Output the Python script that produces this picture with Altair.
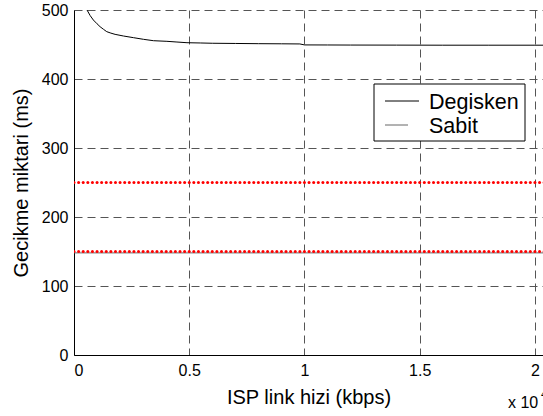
import altair as alt
import pandas as pd

FONT = "Liberation Sans"

# Degisken: delay (ms) against ISP link speed (kbps)
degisken_x = [565, 700, 840, 1000, 1131, 1280, 1421, 1600, 1783, 2146, 2580,
              3016, 3451, 4031, 4467, 4902, 5481, 6000, 7000, 8000, 9000,
              9800, 10000, 11000, 12000, 14000, 16000, 18000, 20000, 20400]
degisken_y = [500, 492, 485.5, 480, 475.8, 472, 468.6, 466.5, 464.7, 462.3,
              459.9, 457.5, 455.5, 454.6, 453.6, 452.6, 452.2, 451.8, 451.5,
              451.2, 451.0, 450.8, 449.4, 449.3, 449.2, 449.1, 449.0, 449.0,
              449.0, 449.0]

# Sabit: constant delay
sabit_x = [0, 20400]
sabit_y = [148, 148]

# Sampled reference levels drawn as red dots
dot_x = list(range(0, 20401, 200))
dot_levels = [250, 150]

x_ticks = [0, 5000, 10000, 15000, 20000]
y_ticks = [0, 100, 200, 300, 400, 500]

series_names = ["Degisken", "Sabit"]
series_colors = ["#000000", "#666666"]

lines = pd.DataFrame(
    {"x": degisken_x + sabit_x,
     "y": degisken_y + sabit_y,
     "series": ["Degisken"] * len(degisken_x) + ["Sabit"] * len(sabit_x)}
)
dots = pd.DataFrame(
    [{"x": xv, "y": lv} for lv in dot_levels for xv in dot_x]
)

x_scale = alt.Scale(domain=[0, 20350], nice=False, zero=False)
y_scale = alt.Scale(domain=[0, 500], nice=False)

x_enc = alt.X(
    "x:Q", scale=x_scale,
    axis=alt.Axis(title="ISP link hizi (kbps)", values=x_ticks,
                  labelExpr="datum.value / 10000", labelPadding=7,
                  titlePadding=9),
)
y_enc = alt.Y(
    "y:Q", scale=y_scale,
    axis=alt.Axis(title="Gecikme miktari (ms)", values=y_ticks,
                  labelPadding=6, titlePadding=10),
)

line_layer = alt.Chart(lines).mark_line(strokeWidth=1, clip=True).encode(
    x=x_enc, y=y_enc,
    color=alt.Color("series:N",
                    scale=alt.Scale(domain=series_names, range=series_colors),
                    legend=None),
    order=alt.Order("x:Q"),
)

dot_layer = alt.Chart(dots).mark_circle(
    color="#ff0000", size=9, opacity=1, clip=True
).encode(x="x:Q", y="y:Q")

# Legend box drawn in the upper right of the plot area
one = pd.DataFrame({"k": [0]})
legend_box = alt.Chart(one).mark_rect(
    fill="white", stroke="black", strokeWidth=1
).encode(x=alt.value(300), x2=alt.value(451), y=alt.value(74), y2=alt.value(131))

legend_layers = [legend_box]
legend_rows = [(series_names[0], series_colors[0], 91, 34, 99),
               (series_names[1], series_colors[1], 115, 23, 123)]
for name, col, ly, llen, ty in legend_rows:
    legend_layers.append(
        alt.Chart(one).mark_rule(color=col, strokeWidth=1).encode(
            x=alt.value(311), x2=alt.value(311 + llen), y=alt.value(ly))
    )
    legend_layers.append(
        alt.Chart(pd.DataFrame({"t": [name]})).mark_text(
            align="left", baseline="alphabetic", font=FONT, fontSize=21.5,
            color="black"
        ).encode(x=alt.value(355), y=alt.value(ty), text="t:N")
    )

exp_text = alt.Chart(pd.DataFrame({"t": ["x 10"]})).mark_text(
    align="left", baseline="middle", font=FONT, fontSize=16, color="black"
).encode(x=alt.value(434), y=alt.value(393), text="t:N")
exp_power = alt.Chart(pd.DataFrame({"t": ["4"]})).mark_text(
    align="left", baseline="middle", font=FONT, fontSize=11, color="black"
).encode(x=alt.value(467), y=alt.value(385), text="t:N")

chart = alt.layer(line_layer, dot_layer, *legend_layers, exp_text, exp_power).properties(
    width=469, height=345,
    autosize=alt.AutoSizeParams(type="none"),
    padding={"left": 74, "top": 10, "right": 0, "bottom": 61},
    background="white",
).configure_view(stroke=None).configure_axis(
    labelFont=FONT, labelFontSize=16, labelColor="black",
    titleFont=FONT, titleFontSize=20, titleColor="black", titleFontWeight="normal",
    domainColor="black", domainWidth=1,
    grid=True, gridColor="#555555", gridDash=[8, 5], gridWidth=1, gridOpacity=1,
    tickSize=0,
)

chart.save("out.html", embed_options={"renderer": "svg", "actions": False})
